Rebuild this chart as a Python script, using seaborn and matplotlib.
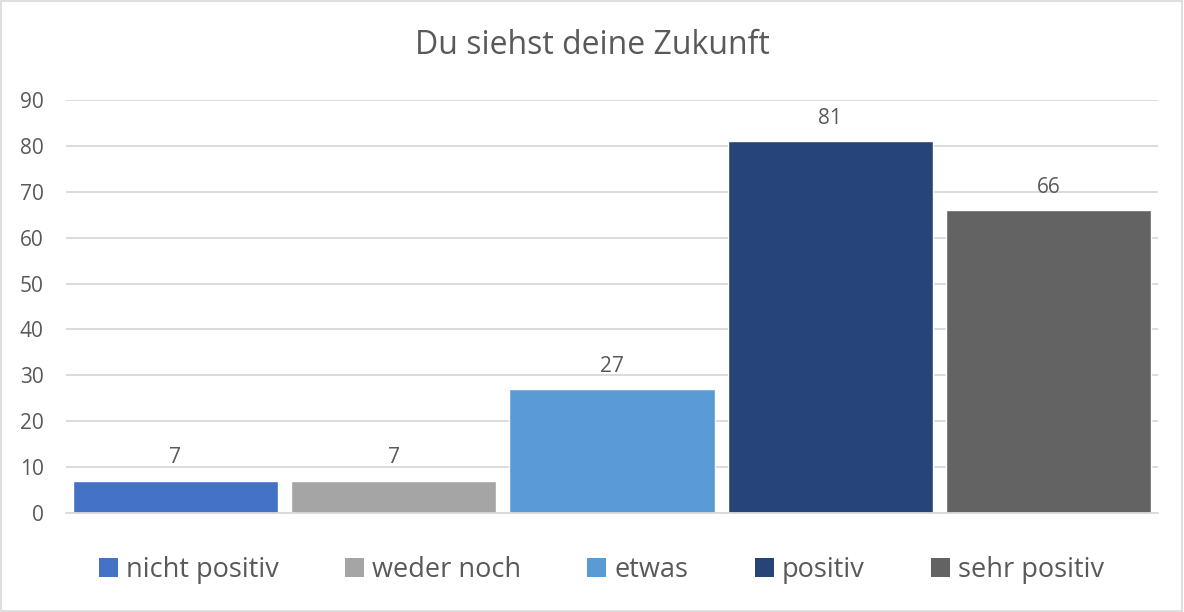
import matplotlib
matplotlib.use("Agg")
import matplotlib.pyplot as plt
import seaborn as sns
import pandas as pd
from matplotlib.patches import Rectangle, Patch

categories = ["nicht positiv", "weder noch", "etwas", "positiv", "sehr positiv"]
values = [7, 7, 27, 81, 66]
colors = ["#4472C4", "#A5A5A5", "#5B9BD5", "#264478", "#636363"]
title = "Du siehst deine Zukunft"

text_color = "#595959"
grid_color = "#D9D9D9"

sns.set_style("white")
plt.rcParams["font.family"] = ["Open Sans", "DejaVu Sans"]

df = pd.DataFrame({"Antwort": categories, "Anzahl": values})

fig = plt.figure(figsize=(11.84, 6.12), dpi=100)
ax = fig.add_axes([0.0557, 0.1618, 0.9223, 0.6748])

sns.barplot(data=df, x="Antwort", y="Anzahl", hue="Antwort", palette=colors,
            width=0.94, saturation=1, legend=False, ax=ax)

ax.set_xlim(-0.5, 4.5)
ax.set_ylim(0, 90)
ax.set_yticks(range(0, 91, 10))
ax.yaxis.grid(True, color=grid_color, linewidth=1.3)
ax.set_axisbelow(True)
ax.set_xticks([])
ax.set_xlabel("")
ax.set_ylabel("")
for side in ["top", "right", "left"]:
    ax.spines[side].set_visible(False)
ax.spines["bottom"].set_color(grid_color)
ax.spines["bottom"].set_linewidth(1.3)
ax.tick_params(axis="y", length=0, pad=16, labelsize=15, labelcolor=text_color)

for container in ax.containers:
    ax.bar_label(container, padding=9, fontsize=15, color=text_color)

fig.text(0.5, 0.926, title, ha="center", va="center", fontsize=23, color=text_color)

handles = [Patch(facecolor=c, edgecolor="none") for c in colors]
fig.legend(handles, categories, loc="center", bbox_to_anchor=(0.508, 0.068), ncol=5,
           frameon=False, fontsize=19.5, labelcolor=text_color,
           handlelength=0.7, handleheight=0.7, handletextpad=0.3, columnspacing=2.45)

fig.patches.append(Rectangle((0.001, 0.002), 0.997, 0.996, transform=fig.transFigure,
                             fill=False, edgecolor=grid_color, linewidth=1.2))

plt.savefig("out.png", dpi=100)
plt.close()
